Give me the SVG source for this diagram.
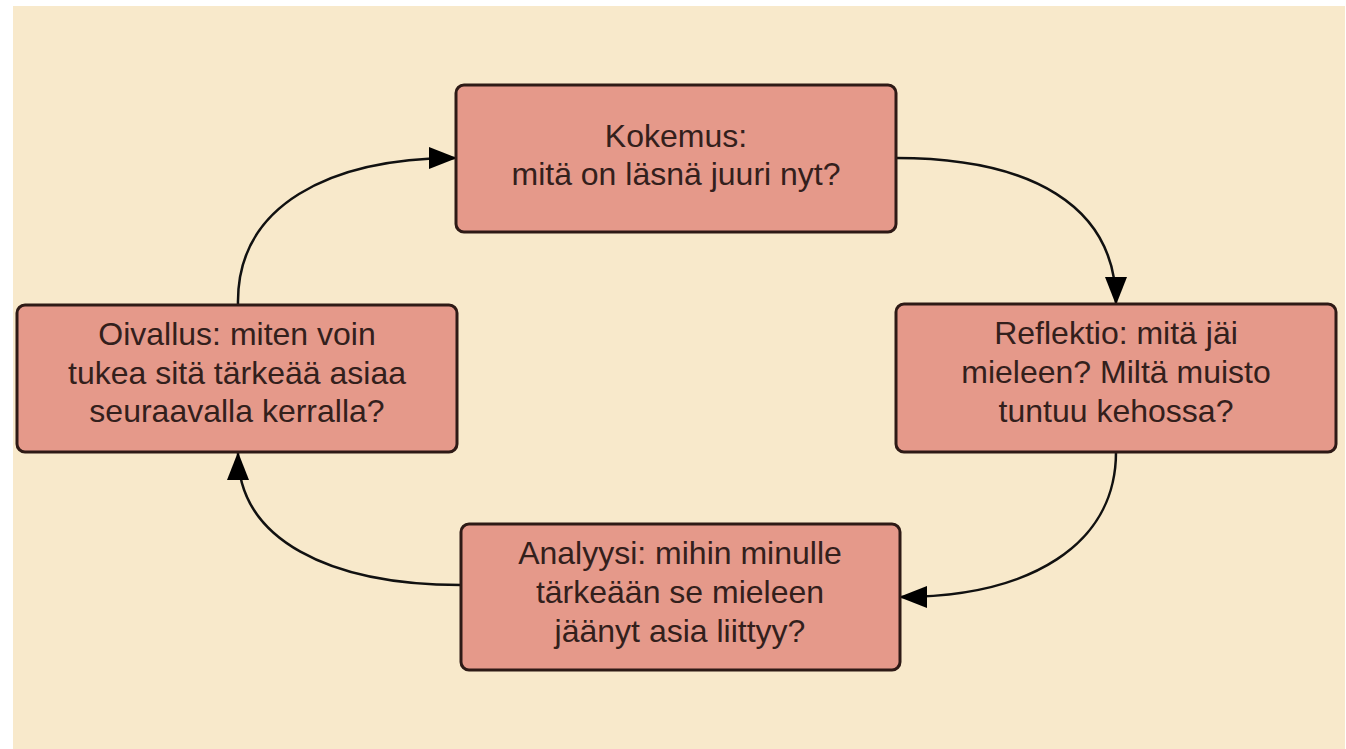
<svg xmlns="http://www.w3.org/2000/svg" width="1346" height="749" viewBox="0 0 1346 749">
  <style>
    .box { fill: #e5998a; stroke: #2e1a16; stroke-width: 3; }
    .lbl { font-family: "Liberation Sans", Arial, sans-serif; font-size: 32px; fill: #33201c; text-anchor: middle; }
    .conn { fill: none; stroke: #111; stroke-width: 2.5; marker-end: url(#arrow); }
  </style>
  <defs>
    <marker id="arrow" markerUnits="userSpaceOnUse" markerWidth="28" markerHeight="22" refX="27" refY="11" orient="auto" viewBox="0 0 28 22">
      <path d="M0,0 L28,11 L0,22 z" fill="#000"/>
    </marker>
  </defs>
  <rect x="0" y="0" width="1346" height="749" fill="#ffffff"/>
  <rect x="13" y="6" width="1332" height="743" fill="#f8e9cb"/>

  <g id="connectors">
    <path class="conn" d="M238 305 C236 205 330 158 456 158"/>
    <path class="conn" d="M896 158 C1030 158 1116 205 1116 304"/>
    <path class="conn" d="M1116 452 C1116 545 1030 597 900 597"/>
    <path class="conn" d="M461 585 C330 585 238 540 238 453"/>
  </g>

  <g id="kokemus">
    <rect class="box" x="456" y="85" width="440" height="147" rx="8"/>
    <text class="lbl"><tspan x="676" y="147">Kokemus:</tspan><tspan x="676" y="185">mitä on läsnä juuri nyt?</tspan></text>
  </g>
  <g id="reflektio">
    <rect class="box" x="896" y="304" width="440" height="148" rx="8"/>
    <text class="lbl"><tspan x="1116" y="344">Reflektio: mitä jäi</tspan><tspan x="1116" y="383">mieleen? Miltä muisto</tspan><tspan x="1116" y="422">tuntuu kehossa?</tspan></text>
  </g>
  <g id="analyysi">
    <rect class="box" x="461" y="524" width="439" height="146" rx="8"/>
    <text class="lbl"><tspan x="680" y="564">Analyysi: mihin minulle</tspan><tspan x="680" y="603">tärkeään se mieleen</tspan><tspan x="680" y="642">jäänyt asia liittyy?</tspan></text>
  </g>
  <g id="oivallus">
    <rect class="box" x="17" y="305" width="440" height="147" rx="8"/>
    <text class="lbl"><tspan x="237" y="345">Oivallus: miten voin</tspan><tspan x="237" y="384">tukea sitä tärkeää asiaa</tspan><tspan x="237" y="422">seuraavalla kerralla?</tspan></text>
  </g>
</svg>
